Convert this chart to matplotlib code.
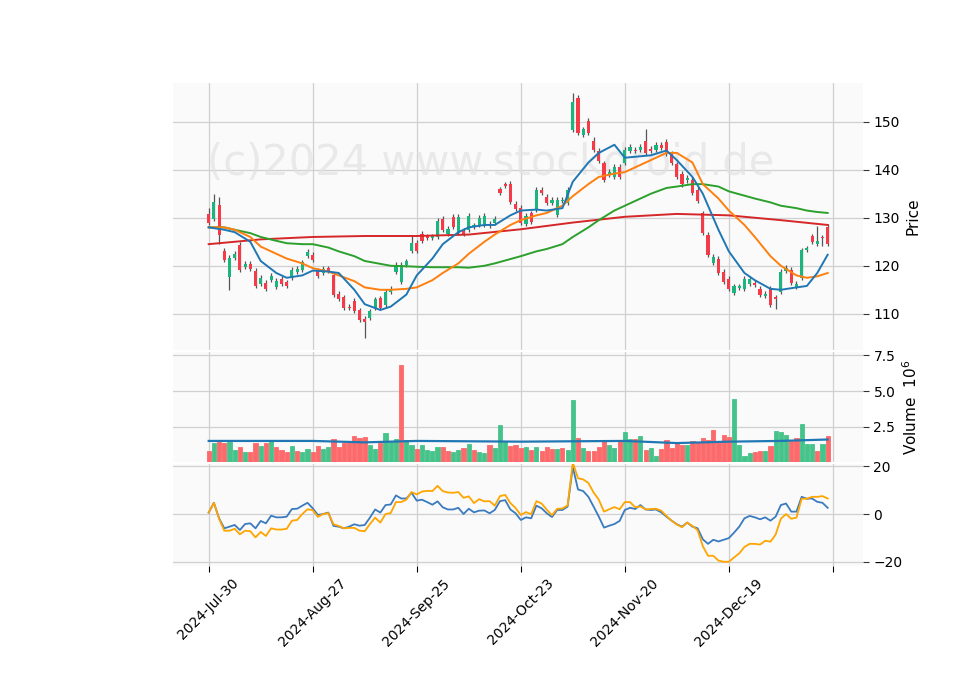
import matplotlib
matplotlib.use("Agg")
import matplotlib.pyplot as plt
import numpy as np

tick_labels = ["2024-Jul-30", "2024-Aug-27", "2024-Sep-25", "2024-Oct-23", "2024-Nov-20", "2024-Dec-19", ""]
tick_pos = [0, 20, 40, 60, 80, 100, 120]

# (open, close) per bar
oc = [(130.8,128.9),(129.8,133.3),(132.7,126.5),(123.1,121.3),(117.7,121.7),(121.7,122.5),(124.4,119.2),(119.8,120.4),(120.4,119.4),(119.0,115.8),
      (116.3,117.5),(116.5,115.2),(117.1,117.9),(115.6,116.9),(117.3,116.3),(116.6,115.8),(117.5,119.2),(118.7,119.4),(119.2,120.8),(122.1,122.9),
      (122.3,121.3),(119.0,117.9),(118.5,119.4),(119.5,118.9),(118.1,114.0),(114.2,113.1),(113.5,111.2),(111.5,111.2),(112.7,110.6),(110.8,108.8),
      (109.0,108.3),(109.2,110.6),(111.3,113.1),(113.3,111.3),(111.9,114.6),(114.6,115.2),(118.8,120.2),(116.7,120.2),(120.2,121.0),(123.1,124.8),
      (124.8,123.1),(126.7,125.2),(126.2,125.8),(125.8,126.2),(126.0,129.4),(129.8,127.5),(126.7,127.7),(130.2,128.1),(126.9,130.2),(127.3,126.7),
      (127.5,130.4),(128.1,128.5),(128.5,130.0),(128.5,130.4),(128.8,128.3),(128.9,129.8),(136.0,135.2),(137.0,136.7),(137.1,133.3),(132.9,131.9),
      (132.1,129.0),(128.7,130.4),(131.0,129.2),(131.7,135.8),(135.8,135.2),(134.4,133.1),(133.1,133.8),(130.6,133.8),(133.5,133.8),(133.1,135.8),
      (148.3,154.2),(155.0,147.7),(147.3,148.5),(150.2,147.7),(146.0,144.2),(144.0,141.9),(141.3,137.9),(139.0,139.6),(138.5,140.6),(140.6,138.5),
      (141.5,144.2),(144.0,144.8),(144.2,144.0),(144.2,144.8),(146.0,143.5),(144.4,144.0),(144.2,145.2),(145.2,144.6),(145.8,143.3),(143.5,141.5),
      (141.2,138.5),(139.2,137.0),(137.8,138.3),(137.9,135.2),(135.8,133.5),(131.0,126.9),(126.5,122.3),(120.6,121.9),(121.5,118.5),(118.8,116.7),
      (117.3,115.2),(114.4,115.8),(115.4,115.8),(115.2,117.3),(116.3,117.3),(116.5,116.0),(115.2,113.9),(113.8,114.2),(115.2,111.9),(113.4,113.1),
      (114.6,118.8),(118.9,119.6),(119.2,116.5),(115.6,116.3),(117.5,123.3),(123.3,123.6),(126.2,125.0),(124.6,125.1),(125.9,125.7),(128.1,124.6)]
opens = [a for a, b in oc]
closes = [b for a, b in oc]
wick_hi = {0: 132.0, 1: 135.0, 2: 134.3, 70: 156.0, 71: 155.5, 84: 148.5, 117: 128.3, 39: 126.5, 74: 146.8}
wick_lo = {2: 124.6, 4: 115.0, 30: 105.0, 109: 111.0, 118: 124.2}

volume = [0.81,1.38,1.43,1.38,1.43,0.88,1.08,0.69,0.74,1.33,1.15,1.33,1.56,1.08,0.88,0.69,1.15,0.81,0.69,0.94,
          0.69,1.15,0.96,1.08,1.63,1.08,1.38,1.43,1.84,1.70,1.77,1.20,0.94,1.38,2.05,1.43,1.63,6.83,1.56,1.24,
          0.94,1.24,0.88,0.81,1.08,1.08,0.81,0.74,0.88,1.01,1.29,0.88,0.69,0.62,1.24,1.01,2.60,1.43,1.17,1.24,
          1.01,1.08,0.88,1.08,0.81,1.08,0.94,0.94,1.01,0.88,4.34,1.70,1.01,0.76,0.81,1.08,1.56,1.22,1.01,1.49,
          2.11,1.63,1.63,1.84,0.88,1.01,0.46,0.94,1.56,1.01,1.36,1.22,1.22,1.49,1.43,1.70,1.56,2.25,1.49,1.91,
          1.77,4.41,1.22,0.46,0.67,0.74,0.81,0.81,1.15,2.18,2.11,1.91,1.49,1.70,2.69,1.29,1.29,0.81,1.29,1.84]
vol_up = [0,1,0,0,1,1,0,1,0,0,1,0,1,0,0,0,1,0,1,1,0,0,1,1,0,0,0,0,0,0,0,1,1,0,1,1,1,0,1,1,
          0,1,1,1,1,0,0,1,1,0,1,0,1,1,0,1,1,1,0,0,0,1,0,1,0,0,0,1,0,1,1,0,1,0,0,0,0,1,1,0,
          1,1,0,1,0,1,1,0,0,0,0,0,1,0,0,0,0,0,0,0,0,1,1,1,1,0,0,1,0,1,1,1,0,0,1,1,1,0,1,0]

ma_idx = [0,3,5,8,10,13,15,18,20,23,25,28,30,33,35,38,40,43,45,48,50,53,55,58,60,63,65,68,70,73,75,78,80,83,85,88,90,93,95,98,100,103,105,108,110,113,115,117,119]
ma_fast = [128,127.5,127,125,121,118.5,117.5,118,119,118.8,118.5,115,112,110.8,111.5,114,118,121.5,124.5,127,128,128.5,128.5,130.5,131.5,131.7,131.5,132,137.5,141.5,143.5,145.2,142.5,142.8,143,144,142,138.5,135,127.5,123,118.5,117,115.2,115,115.5,115.8,118.5,122.3]
ma_mid = [128,128,127.5,126,124,122.5,121.5,120.5,119.5,118.8,118,116.8,115.5,115,115,115.2,115.5,117,118.5,120.5,122.5,125,126.5,128.5,129.5,130.5,131,132.5,134.5,137,138.5,139.2,139.5,141,142,143.5,143.5,141.5,137,134,131.5,128.5,126,122,120,118,117.5,117.8,118.5]
ma_slow = [128,128,127.5,126.8,126,125.2,124.7,124.5,124.5,123.8,123,122,121,120.4,120,119.9,119.8,119.7,119.7,119.7,119.6,120,120.5,121.4,122,123,123.5,124.5,126,128,129.5,131.5,132.5,134,135,136.2,136.5,137,137,136.5,135.5,134.6,134,133.2,132.5,132,131.5,131.2,131]
ma_long_idx = [0,10,20,30,40,50,60,70,80,90,100,110,119]
ma_long = [124.5,125.5,126,126.2,126.2,126.5,127.6,129,130.2,130.8,130.5,129.5,128.5]
vol_ma_idx = [0,20,30,40,60,80,90,100,110,119]
vol_ma = [1.5,1.5,1.4,1.5,1.45,1.5,1.35,1.45,1.5,1.6]

osc_blue = [0.6,4.7,-1.8,-6,-5.3,-4.6,-6.7,-4.2,-3.9,-6,-2.9,-3.9,-0.7,-1.4,-1.4,-1.1,2.1,2.2,3.5,4.7,
            2.4,-0.4,0,0.6,-5,-5.3,-6,-5.3,-4.3,-4.9,-4.6,-1.5,1.9,0.6,3.75,4,7.8,6.5,6.5,8.9,
            5.6,6,5,3.9,5.3,2.8,1.9,1.9,2.6,0,2.2,0.7,1.4,1.5,0.3,1.7,5.4,5.8,1.9,0.3,
            -2.5,-1.4,-1.8,3.5,2.4,0.3,-1.25,1.7,1.7,3.1,19.7,10.3,9.6,7.2,3.1,-1.1,-5.7,-4.9,-4.2,-2.9,
            1.7,2.6,2.1,3.75,1.9,1.7,1.9,0.7,-1.1,-2.8,-4.3,-5.3,-3.6,-5.3,-6,-10.6,-12.5,-10.8,-11.5,-10.8,
            -10.1,-7.8,-5.3,-1.8,-0.8,-1.4,-2.2,-1.4,-2.8,-1.1,3.75,4.4,1,1,7.2,6.4,6.5,5.1,4.7,2.6]
osc_orange = [0.6,4.7,-2,-7,-7,-6.2,-8.5,-7,-7.2,-9.8,-7.5,-9.2,-6,-6.5,-6.5,-6.2,-2.8,-2.5,0,2,
              1.6,-1.2,0,0.4,-4.3,-5,-6,-5.8,-5.8,-7,-7.2,-4.2,-1.5,-3.6,0,0.4,5,5,6,9.2,
              8.2,9.4,9.7,9.6,11.8,9.6,9,8.9,9.2,6.8,7.4,4.6,6.2,5.3,5.4,3.5,7.5,8,4.6,2.5,
              -0.4,0.8,-0.1,5.4,4.4,1.8,-0.5,2.2,2.3,3.6,21.5,15,14.5,13,9,6,1,2,2.9,2,
              5,5,2.8,3.2,1.9,2.1,2.2,1.4,-0.8,-2.8,-4.4,-5.5,-3.6,-5,-6.8,-13.5,-17.5,-17.5,-19.5,-20,
              -20,-18.2,-16.5,-13.8,-12.5,-12.5,-12.8,-11.2,-11.6,-8.6,-2,0,-2,-1.5,6.4,6.4,7.2,7.2,7.5,6.5]

UP = "#1db57e"
DN = "#f43b47"
VUP = "#46c38b"
VDN = "#fd6a6b"
BG = "#fafafa"
GRID = "#d0d0d0"

fig = plt.figure(figsize=(9.6, 6.9), dpi=100)
L, W = 0.180, 0.719
ax1 = fig.add_axes([L, 0.493, W, 0.387])
ax2 = fig.add_axes([L, 0.330, W, 0.160], sharex=ax1)
ax3 = fig.add_axes([L, 0.180, W, 0.147], sharex=ax1)

for ax in (ax1, ax2, ax3):
    ax.set_facecolor(BG)
    ax.grid(True, color=GRID, linewidth=0.9)
    ax.set_axisbelow(True)
    for s in ax.spines.values():
        s.set_visible(False)
    ax.yaxis.tick_right()
    ax.yaxis.set_label_position("right")
    ax.tick_params(axis="y", length=4, color="#333333", labelsize=10)

x = np.arange(len(opens))
for i in x:
    o, c = opens[i], closes[i]
    col = UP if c >= o else DN
    hi = wick_hi.get(i, max(o, c) + 0.5)
    lo = wick_lo.get(i, min(o, c) - 0.5)
    ax1.vlines(i, lo, hi, color="#555555", linewidth=0.9, zorder=2)
    ax1.bar(i, max(abs(c - o), 0.15), bottom=min(o, c), width=0.6, color=col, zorder=3)

ax1.plot(ma_long_idx, ma_long, color="#d62728", lw=1.4, zorder=4)
ax1.plot(ma_idx, ma_slow, color="#2ca02c", lw=1.4, zorder=4)
ax1.plot(ma_idx, ma_mid, color="#ff7f0e", lw=1.4, zorder=4)
ax1.plot(ma_idx, ma_fast, color="#1f77b4", lw=1.4, zorder=4)
ax1.set_ylim(102.5, 158.1)
ax1.set_yticks([110, 120, 130, 140, 150])
ax1.set_ylabel("Price", fontsize=11)
ax1.text(0.46, 0.70, "(c)2024 www.stockdroid.de", transform=ax1.transAxes, ha="center", va="center",
         fontsize=30, color="#e2e2e2", alpha=0.7, zorder=1)
plt.setp(ax1.get_xticklabels(), visible=False)
ax1.tick_params(axis="x", length=0)

vcols = [VUP if u else VDN for u in vol_up]
ax2.bar(x, volume, width=0.8, color=vcols, edgecolor=vcols, linewidth=0.6, zorder=3)
ax2.plot(vol_ma_idx, vol_ma, color="#1f77b4", lw=1.6, zorder=4)
ax2.set_ylim(0, 7.75)
ax2.set_yticks([2.5, 5.0, 7.5])
ax2.set_ylabel("Volume  $10^6$", fontsize=11)
plt.setp(ax2.get_xticklabels(), visible=False)
ax2.tick_params(axis="x", length=0)

ax3.plot(x, osc_blue, color="#3a7bbf", lw=1.3)
ax3.plot(x, osc_orange, color="#ffa500", lw=1.3)
ax3.set_ylim(-21.7, 20.8)
ax3.set_yticks([-20, 0, 20])
ax3.set_xlim(-6.9, 125.8)
ax3.set_xticks(tick_pos)
ax3.set_xticklabels(tick_labels, rotation=45, ha="center", fontsize=10)
ax3.tick_params(axis="x", length=4)

fig.savefig("out.png", dpi=100)
